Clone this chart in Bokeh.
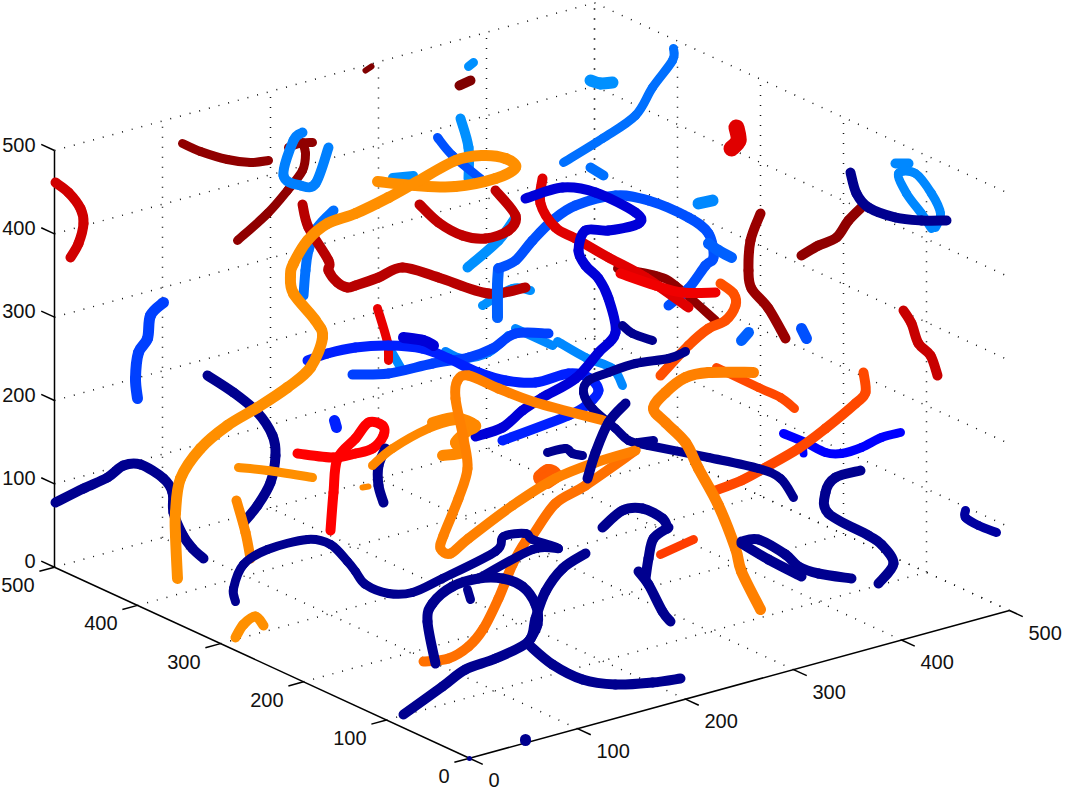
from bokeh.plotting import figure
from bokeh.embed import file_html
from bokeh.resources import INLINE
from bokeh.core.properties import value

# --- tick values of the three axes
x_ticks = [0, 100, 200, 300, 400, 500]
y_ticks = [0, 100, 200, 300, 400, 500]
z_ticks = [0, 100, 200, 300, 400, 500]

# --- traces as (across, down) positions of the projected view
lb_a = [(333,210),(317,227),(308,250),(305,270),(303,295)]
lb_b = [(460,118),(468,147),(468,178)]
lb_c = [(437,137),(452,155),(480,178)]
lb_d = [(392,177),(413,175)]
lb_e = [(515,217),(498,240),(467,267)]
lb_f = [(482,305),(512,288),(530,290)]
lb_g = [(445,351),(462,358),(488,352),(508,335)]
lb_h = [(515,328),(552,345)]
lb_i = [(557,341),(585,357),(612,368),(622,385)]
lb_j = [(392,353),(400,367)]
lb_k = [(673,48),(672,60),(652,87),(635,115),(602,138),(563,162)]
lb_l = [(590,167),(603,175)]
lb_m = [(468,66),(473,62)]
lb_n = [(590,80),(600,83),(612,82)]
lb_o = [(698,203),(712,200)]
lb_p = [(302,132),(293,140),(283,175),(300,185),(315,183),(328,147)]
lb_q = [(895,163),(908,163)]
lb_r = [(931,228),(921,213),(906,193),(898,173),(915,173),(931,193),(940,213),(935,227)]
lb_s = [(748,332),(741,340)]
lb_t = [(801,328),(806,338)]
bl_a = [(163,302),(150,315),(147,338),(138,352),(135,378),(137,398)]
bl_b = [(783,433),(805,442),(825,452),(841,453),(861,447),(881,437),(900,432)]
bl_c = [(802,442),(803,453)]
bl_d = [(334,420),(336,427)]
bl_e = [(498,268),(497,285),(497,317)]
bl_f = [(498,268),(515,260),(532,240),(552,220),(575,205),(615,195),(648,200),(688,217),(708,233),(713,257),(705,265),(688,288),(668,305)]
bl_g = [(708,243),(718,250),(731,257)]
bl_h = [(352,374),(388,373),(432,363),(468,357),(492,348),(515,333),(548,333)]
bl_i = [(502,440),(568,415),(588,403),(598,390),(588,377),(568,373),(535,382),(505,380),(478,372),(448,358),(422,348),(388,345),(355,347),(327,353),(307,360)]
dr_a = [(182,143),(200,151),(227,159),(250,162),(268,160)]
dr_b = [(237,240),(267,213),(287,190),(302,170),(305,153),(302,142)]
dr_c = [(288,147),(298,143),(312,142)]
dr_d = [(365,70),(371,66)]
dr_e = [(459,85),(470,80)]
dr_f = [(760,213),(750,240),(748,270),(751,288),(768,308),(785,338)]
dr_g = [(801,255),(818,245),(836,237),(848,220),(863,205)]
dr_h = [(617,268),(655,275),(675,285),(715,320)]
rd_a = [(55,182),(68,192),(80,208),(83,223),(78,243),(70,257)]
rd_b = [(302,204),(308,227),(328,260),(328,270),(337,282),(347,287),(355,285),(378,277),(402,267),(438,277),(488,293),(525,287)]
rd_c = [(419,204),(438,222),(462,235),(485,238),(508,230),(515,215),(495,190)]
rd_d = [(542,178),(540,203),(555,227),(575,238),(608,257),(645,277),(688,307)]
rd_e = [(620,273),(655,285),(682,292),(715,292)]
rd_f = [(377,308),(387,342),(388,360)]
rd_g = [(736,127),(738,140),(731,148)]
rd_h = [(903,310),(911,323),(918,343),(930,355),(937,375)]
rd_i = [(297,453),(333,457),(355,453),(372,448),(383,435),(382,425),(368,422),(355,438),(337,458),(333,492),(330,530)]
db_a = [(475,436),(502,427),(522,410),(542,397),(575,378),(598,352),(615,332),(608,298),(598,278),(585,265),(578,250),(585,230),(608,230),(638,223),(635,212),(595,192),(562,187),(525,198)]
db_b = [(403,337),(423,340),(433,345)]
nv_a = [(207,375),(233,392),(257,412),(272,435),(275,455),(270,482),(257,505),(243,522)]
nv_b = [(55,502),(83,488),(107,477),(123,465),(140,464),(163,478),(172,492),(173,512),(182,534),(192,548),(203,558)]
nv_c = [(385,448),(378,465),(378,485),(383,502)]
nv_d = [(685,351),(668,358),(635,363),(608,372),(588,380),(583,392),(592,408),(615,428),(628,440),(648,445),(708,457),(758,468),(780,478),(793,497)]
nv_e = [(622,325),(632,333),(652,340)]
nv_f = [(547,452),(565,448),(572,453),(582,455)]
nv_g = [(638,442),(653,440)]
nv_h = [(860,470),(835,477),(825,492),(828,513),(868,535),(881,544),(893,563),(878,583)]
nv_i = [(850,172),(856,193),(868,207),(895,217),(921,220),(946,220)]
nv_j = [(965,510),(965,517),(978,525),(996,532)]
nv_k = [(741,541),(758,539),(785,554),(798,566),(818,573),(851,578)]
nv_l = [(741,543),(768,559),(801,576)]
nv_m = [(602,527),(622,510),(642,508),(662,518),(667,528)]
nv_n = [(668,527),(653,538),(648,558),(645,578)]
nv_o = [(638,571),(648,584),(662,611),(670,621)]
nv_p = [(235,601),(233,588),(243,564),(267,549),(307,539),(330,544),(347,561),(355,571),(365,584),(388,593),(412,592),(442,578),(495,551),(503,536),(525,533),(532,539),(558,548),(532,549),(478,578)]
nv_q = [(435,663),(427,621),(432,603),(452,586),(478,578),(502,578),(522,586),(535,604),(537,624),(527,643)]
nv_r = [(585,553),(562,568),(545,591),(535,618),(528,641),(495,658),(465,669),(442,686),(403,714)]
nv_s = [(528,644),(552,664),(582,679),(615,684),(652,682),(680,678)]
nv_t = [(467,589),(470,599)]
nv_u = [(625,403),(608,422),(595,452),(587,478)]
nv_v = [(525,739),(525,740)]
nv_w = [(469,758),(469,758)]
or_a = [(238,467),(267,470),(312,477)]
or_b = [(236,500),(245,532),(250,558)]
or_c = [(235,637),(243,624),(255,616),(263,625)]
or_d = [(372,465),(392,448),(428,428),(455,420),(472,422)]
or_e = [(432,422),(455,417),(475,425),(465,432),(455,442),(462,452),(442,455)]
or_f = [(362,487),(368,486)]
or_g = [(603,420),(535,402),(498,388),(468,375),(457,380),(455,398),(463,438),(467,468),(458,498),(443,535),(440,548),(450,553),(468,538),(512,505),(555,478),(595,462),(635,450)]
or_h = [(423,661),(448,658),(468,646),(483,628),(498,598),(512,564),(525,541),(532,535),(555,503),(585,485),(635,450)]
or_i = [(753,372),(708,372),(685,377),(665,392),(653,408),(665,422),(685,442),(698,468),(718,505),(735,548),(741,571),(760,609)]
or_j = [(377,181),(415,185),(455,186),(495,178),(515,167),(505,158),(482,155),(455,160),(415,182),(388,197),(355,213),(327,223),(307,240),(293,263),(290,275),(293,293),(315,320),(322,337),(310,367),(287,387),(257,407),(227,425),(200,448),(180,478),(175,512),(175,535),(177,578)]
ro_a = [(541,477),(548,472),(553,475),(546,480)]
ro_b = [(660,554),(693,539)]
ro_c = [(863,372),(865,392),(855,403),(825,428),(798,448),(765,467),(741,480),(715,490)]
ro_d = [(716,367),(758,387),(780,397),(794,408)]
ro_e = [(720,283),(733,293),(735,305),(725,320),(708,328),(688,345),(660,375)]

# --- drawing order: name, colour, width
strokes = [
    (lb_a,"#0070ff",9),(lb_b,"#0090ff",9),(lb_c,"#0050ff",8),(lb_d,"#0090ff",8),(lb_e,"#0090ff",9),
    (lb_f,"#0090ff",8),(lb_g,"#0080ff",8),(lb_h,"#0088ff",8),(lb_i,"#0088ff",8),(lb_j,"#0088ff",8),
    (lb_k,"#0070ff",8),(lb_l,"#0070ff",9),(lb_m,"#0090ff",8),(lb_n,"#0090ff",11),(lb_o,"#0088ff",11),
    (dr_a,"#900000",8),(dr_b,"#900000",8),(dr_c,"#900000",8),(lb_p,"#0080ff",9),
    (lb_q,"#0088ff",9),(lb_r,"#0088ff",8),(lb_s,"#0060ff",10),(lb_t,"#0050ff",10),
    (dr_d,"#800000",5),(dr_e,"#800000",9),(dr_f,"#9a0000",9),(dr_g,"#900000",9),(dr_h,"#900000",8),
    (rd_b,"#b80000",9),(rd_a,"#d00000",9),(rd_c,"#c00000",9),(rd_f,"#e80000",8),(rd_g,"#e00000",15),(rd_h,"#c80000",9),
    (bl_a,"#0040ff",10),(bl_b,"#0000ff",8),(bl_c,"#0000ff",7),(bl_d,"#0020ff",10),
    (bl_h,"#0040ff",9),(bl_i,"#0020ff",9),
    (bl_e,"#0060ff",10),(bl_f,"#0050ff",9),(bl_g,"#0060ff",10),
    (rd_d,"#e00000",9),(rd_e,"#f00000",9),(rd_i,"#ff0000",9),
    (db_b,"#0000d8",10),(db_a,"#0000d8",9),
    (nv_a,"#00008f",9),(nv_b,"#00008f",9),(nv_c,"#00008f",9),
    (or_a,"#ff8f00",8),(or_b,"#ff8800",9),(or_c,"#ff9000",9),(or_d,"#ff8800",8),(or_e,"#ff8800",10),(or_f,"#ff8800",5),
    (ro_a,"#ff5c00",16),(ro_b,"#ff3c00",8),(ro_c,"#ff4800",9),(ro_d,"#ff4800",8),(ro_e,"#ff5000",9),
    (or_h,"#ff7000",9),(nv_d,"#00008f",8),(or_g,"#ff8000",9),(or_i,"#ff8000",10),
    (nv_e,"#00008f",8),(nv_f,"#00008f",8),(nv_g,"#00008f",8),(nv_h,"#00008f",9),(nv_i,"#00008f",9),
    (nv_j,"#0000a0",8),(nv_k,"#00008f",9),(nv_l,"#00008f",9),(nv_m,"#00008f",9),(nv_n,"#00008f",9),(nv_o,"#00008f",9),
    (nv_p,"#00008f",8),(nv_q,"#00008f",9),(nv_r,"#00008f",9),(nv_s,"#00008f",9),(nv_t,"#00008f",8),(nv_u,"#00008f",9),
    (nv_v,"#00008f",10),(nv_w,"#00008f",4),
    (or_j,"#ff8f00",10),
]

# --- view projection of the box
def proj(x, y, z):
    return (469 + x*1.08 - y*0.83, 757.7 - x*0.2954 - y*0.382 - z*0.8334)

W, H = 1068, 791
p = figure(width=W, height=H, x_range=(0, W), y_range=(H, 0),
           toolbar_location=None, output_backend="svg", min_border=0,
           outline_line_color=None, tools="")
p.axis.visible = False
p.grid.visible = False

def seg(a, b):
    A, B = proj(*a), proj(*b)
    return [A[0], B[0]], [A[1], B[1]]

gx, gy = [], []
def grid(a, b):
    s = seg(a, b); gx.append(s[0]); gy.append(s[1])
for t in x_ticks[1:]:
    grid((t,0,0),(t,500,0)); grid((t,500,0),(t,500,500))
for t in y_ticks[1:]:
    grid((0,t,0),(500,t,0)); grid((500,t,0),(500,t,500))
for t in z_ticks[1:]:
    grid((0,500,t),(500,500,t)); grid((500,500,t),(500,0,t))
grid((500,0,0),(500,500,0))
p.multi_line(gx, gy, line_color="#111111", line_width=1.5, line_dash="1 9")

ax, ay = [], []
def axis(a, b):
    s = seg(a, b); ax.append(s[0]); ay.append(s[1])
axis((0,0,0),(500,0,0)); axis((0,0,0),(0,500,0)); axis((0,500,0),(0,500,500))
for t in x_ticks: axis((t,0,0),(t,-16,0))
for t in y_ticks: axis((0,t,0),(-14,t,0))
for t in z_ticks: axis((0,500,t),(0,516,t))
p.multi_line(ax, ay, line_color="#000000", line_width=1.5)

# strokes are drawn as smooth spline sections through the read points
for pts, col, w in strokes:
    n = len(pts)
    xs0, ys0, xs1, ys1, c0x, c0y, c1x, c1y = [], [], [], [], [], [], [], []
    for i in range(n - 1):
        a, b = pts[i], pts[i + 1]
        prev = pts[i - 1] if i > 0 else a
        nxt = pts[i + 2] if i + 2 < n else b
        xs0.append(a[0]); ys0.append(a[1]); xs1.append(b[0]); ys1.append(b[1])
        c0x.append(a[0] + (b[0] - prev[0]) / 6); c0y.append(a[1] + (b[1] - prev[1]) / 6)
        c1x.append(b[0] - (nxt[0] - a[0]) / 6); c1y.append(b[1] - (nxt[1] - a[1]) / 6)
    p.bezier(xs0, ys0, xs1, ys1, c0x, c0y, c1x, c1y, line_color=col, line_width=w + 1,
             line_cap="round")

def labels(vals, pos, align):
    p.text([q[0] for q in pos], [q[1] for q in pos], text=[str(v) for v in vals],
           text_font=value("Liberation Sans"), text_font_size="20px", text_color="#111111",
           text_align=align, text_baseline="middle")
labels(x_ticks, [(proj(t,0,0)[0]+19, proj(t,0,0)[1]+22) for t in x_ticks], "left")
labels(y_ticks, [(proj(0,t,0)[0]-20, proj(0,t,0)[1]+18) for t in y_ticks], "right")
labels(z_ticks, [(proj(0,500,t)[0]-19, proj(0,500,t)[1]-6) for t in z_ticks], "right")

open("out.html", "w").write(file_html(p, INLINE))
